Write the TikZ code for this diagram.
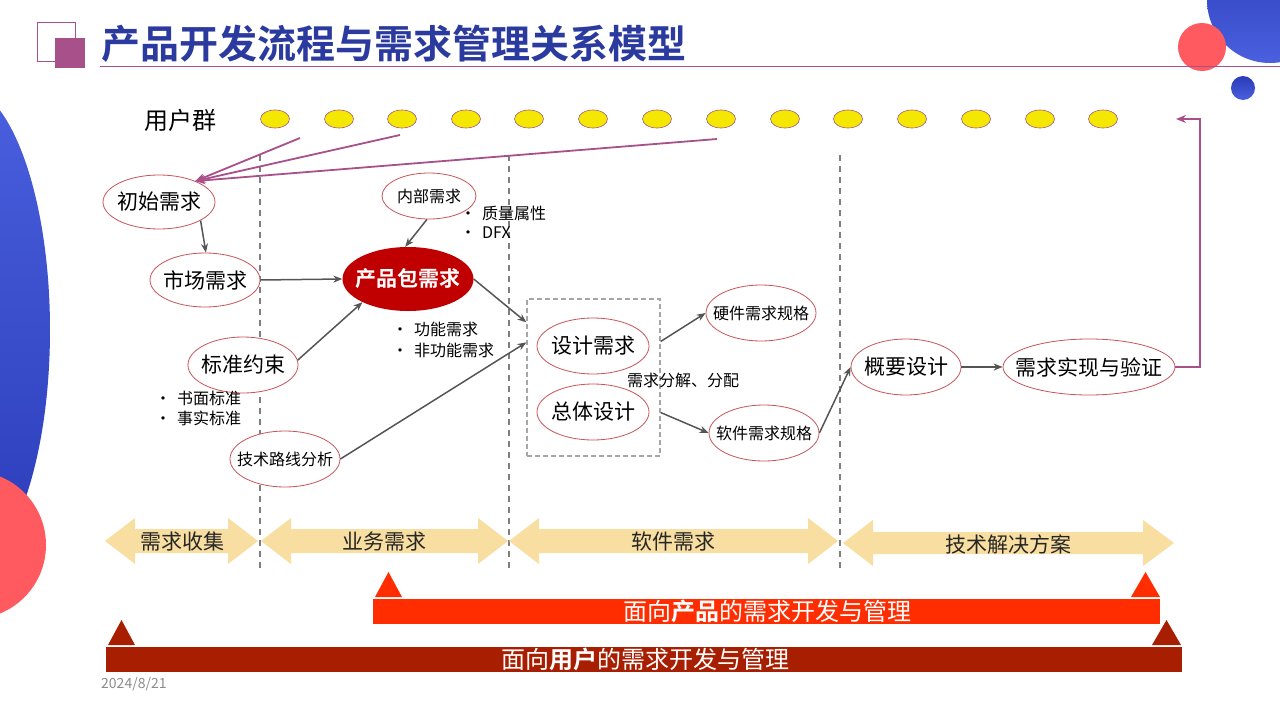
\documentclass[tikz,border=0pt]{standalone}
\usepackage{fontspec}
\setmainfont{Noto Sans CJK SC}[BoldFont={Noto Sans CJK SC Bold}]
\usetikzlibrary{shapes.geometric,arrows.meta,calc}
\definecolor{ellred}{HTML}{C8545A}
\definecolor{titleblue}{HTML}{2B3A9E}
\definecolor{purp}{HTML}{A8508A}
\definecolor{userY}{HTML}{F5E800}
\definecolor{darkgray}{HTML}{555555}
\definecolor{dashgray}{HTML}{7F7F7F}
\definecolor{boxgray}{HTML}{A6A6A6}
\definecolor{pkgred}{HTML}{C00000}
\definecolor{band}{HTML}{F8DEA0}
\definecolor{barA}{HTML}{FF2D00}
\definecolor{barB}{HTML}{A81E00}
\definecolor{circred}{HTML}{FF5A5F}
\definecolor{blueA}{HTML}{4A60DE}
\definecolor{blueB}{HTML}{2A3BB8}
\newcommand\zwbox[1]{\makebox[0pt]{#1}}
\begin{document}
\begin{tikzpicture}[x=1pt,y=-1pt,
  ell/.style={ellipse, draw=ellred, line width=0.8pt, fill=white, inner sep=0pt, text=black},
  bigtxt/.style={font=\fontsize{21}{25}\selectfont},
  smtxt/.style={font=\fontsize{16}{19}\selectfont},
  user/.style={ellipse, draw=purp, line width=0.6pt, fill=userY, minimum width=29pt, minimum height=18pt, inner sep=0pt},
  garrow/.style={draw=darkgray, line width=1.5pt, -{Stealth[length=9pt,width=7pt]}},
  parrow/.style={draw=purp, line width=1.8pt, -{Stealth[length=10pt,width=8pt]}},
  vdash/.style={draw=dashgray, line width=1.5pt, dash pattern=on 6pt off 5pt},
  bullet/.style={anchor=west, inner sep=0pt, font=\fontsize{16}{19}\selectfont},
  bandtxt/.style={font=\fontsize{21}{25}\selectfont, text=black!85},
  bartxt/.style={font=\fontsize{24}{28}\selectfont, text=white}
]
\useasboundingbox (0,0) rectangle (1280,720);
% background decorations
\shade[top color=blueA, bottom color=blueB] (-40,330) ellipse [x radius=90pt, y radius=245pt];
\fill[circred] (-28,545) circle [radius=74pt];
\shade[top color=blueB, bottom color=blueA] (1270,0) circle [radius=63pt];
\fill[circred] (1202,47) circle [radius=24pt];
\shade[top color=blueB, bottom color=blueA] (1243,88) circle [radius=12pt];
% title
\draw[purp, line width=1pt] (37,22) rectangle (75,61);
\fill[purp] (55,38) rectangle (85,68);
\draw[purp, line width=0.8pt] (100,66) -- (1280,66);
\node[anchor=west, inner sep=0pt, text=titleblue, font=\fontsize{39}{44}\selectfont\bfseries] (title) at (101,44) {产品开发流程与需求管理关系模型};
% user group
\node[font=\fontsize{24}{28}\selectfont] (users) at (180,120) {用户群};
\foreach \i/\x in {1/275,2/339,3/402,4/466,5/529,6/593,7/657,8/721,9/785,10/848,11/912,12/976,13/1040,14/1103}
  \node[user] (u\i) at (\x,119) {};
% dashed separators
\draw[vdash] (260,155) -- (260,570);
\draw[vdash] (509,155) -- (509,570);
\draw[vdash] (840,155) -- (840,570);
% dashed box
\node[draw=boxgray, line width=1.3pt, dash pattern=on 5pt off 3pt, minimum width=133pt, minimum height=157pt, inner sep=0pt] (box) at (593.5,377.5) {};
% ellipses
\node[ell, bigtxt, minimum width=112pt, minimum height=54pt] (chushi) at (159,202) {\zwbox{初始需求}};
\node[ell, bigtxt, minimum width=110pt, minimum height=54pt] (shichang) at (205,280) {\zwbox{市场需求}};
\node[ell, smtxt, minimum width=94pt, minimum height=46pt] (neibu) at (429,196) {\zwbox{内部需求}};
\node[ellipse, fill=pkgred, inner sep=0pt, minimum width=131pt, minimum height=64pt, text=white, font=\fontsize{21}{25}\selectfont\bfseries] (chanpin) at (408,279) {\zwbox{产品包需求}};
\node[ell, bigtxt, minimum width=110pt, minimum height=56pt] (biaozhun) at (243,365) {\zwbox{标准约束}};
\node[ell, smtxt, minimum width=110pt, minimum height=56pt] (jishu) at (285,459) {\zwbox{技术路线分析}};
\node[ell, bigtxt, minimum width=112pt, minimum height=56pt] (sheji) at (593,346) {\zwbox{设计需求}};
\node[ell, bigtxt, minimum width=112pt, minimum height=56pt] (zongti) at (593,412) {\zwbox{总体设计}};
\node[ell, smtxt, minimum width=110pt, minimum height=56pt] (yingjian) at (761,313) {\zwbox{硬件需求规格}};
\node[ell, smtxt, minimum width=110pt, minimum height=56pt] (ruanjian) at (764,433) {\zwbox{软件需求规格}};
\node[ell, bigtxt, minimum width=110pt, minimum height=56pt] (gaiyao) at (906,367) {\zwbox{概要设计}};
\node[ell, bigtxt, minimum width=172pt, minimum height=56pt] (shixian) at (1089,367) {\zwbox{需求实现与验证}};
% bullets
\node[bullet] (b1) at (460,213) {•\hspace{6pt}质量属性};
\node[bullet] (b2) at (460,233) {•\hspace{6pt}DFX};
\node[bullet] (b3) at (392,329) {•\hspace{6pt}功能需求};
\node[bullet] (b4) at (392,350) {•\hspace{6pt}非功能需求};
\node[bullet] (b5) at (155,398) {•\hspace{6pt}书面标准};
\node[bullet] (b6) at (155,418) {•\hspace{6pt}事实标准};
\node[smtxt] (fenjie) at (683,380) {需求分解、分配};
% purple arrows from users
\coordinate (s1) at (300,138);
\coordinate (s2) at (400,135);
\coordinate (s3) at (717,139);
\coordinate (hit) at (chushi.30);
\draw[parrow] (s1) -- (hit);
\draw[parrow] (s2) -- (hit);
\draw[parrow] (s3) -- (hit);
% gray arrows
\draw[garrow] (chushi.-24) -- (shichang.88);
\draw[garrow] (shichang.east) -- (chanpin.west);
\draw[garrow] (neibu.-95) -- (chanpin.95);
\draw[garrow] (biaozhun.5) -- (chanpin.-153);
\draw[garrow] (chanpin.east) -- ([yshift=-24pt]box.north west);
\draw[garrow] (jishu.east) -- ([yshift=-44pt]box.north west);
\draw[garrow] ([yshift=36pt]box.east) -- (yingjian.west);
\draw[garrow] ([yshift=-35pt]box.east) -- (ruanjian.west);
\draw[garrow] (ruanjian.east) -- (gaiyao.west);
\draw[garrow] (gaiyao.east) -- (shixian.west);
% return arrow
\coordinate (corner) at (1200,119);
\coordinate (ret) at (1176,119);
\draw[parrow] (shixian.east) -| (corner) -- (ret);
% phase bands
\fill[band] (105,541) -- (135,518) -- (135,529) -- (228,529) -- (228,518) -- (258,541) -- (228,564) -- (228,553) -- (135,553) -- (135,564) -- cycle;
\node[bandtxt] (p1) at (182,542) {需求收集};
\fill[band] (261,541) -- (291,518) -- (291,529) -- (478,529) -- (478,518) -- (508,541) -- (478,564) -- (478,553) -- (291,553) -- (291,564) -- cycle;
\node[bandtxt] (p2) at (384,542) {业务需求};
\fill[band] (509,541) -- (539,518) -- (539,529) -- (808,529) -- (808,518) -- (838,541) -- (808,564) -- (808,553) -- (539,553) -- (539,564) -- cycle;
\node[bandtxt] (p3) at (673,542) {软件需求};
\fill[band] (843,543) -- (873,520) -- (873,532) -- (1143,532) -- (1143,520) -- (1174,543) -- (1143,566) -- (1143,554) -- (873,554) -- (873,566) -- cycle;
\node[bandtxt] (p4) at (1008,544) {技术解决方案};
% product bar
\fill[barA] (375,597) -- (388.5,572) -- (402,597) -- cycle;
\fill[barA] (1131,597) -- (1145.5,572) -- (1160,597) -- cycle;
\fill[barA] (373,599) rectangle (1160,624);
\node[bartxt] (barp) at (767,611) {面向\textbf{产品}的需求开发与管理};
% user bar
\fill[barB] (108,645) -- (121.5,620) -- (135,645) -- cycle;
\fill[barB] (1152,645) -- (1166.5,620) -- (1181,645) -- cycle;
\fill[barB] (106,647) rectangle (1182,672);
\node[bartxt] (baru) at (645,659) {面向\textbf{用户}的需求开发与管理};
% date
\node[anchor=west, inner sep=0pt, text=black!45, font=\fontsize{14}{16}\selectfont] (date) at (101,684) {2024/8/21};
\end{tikzpicture}
\end{document}
